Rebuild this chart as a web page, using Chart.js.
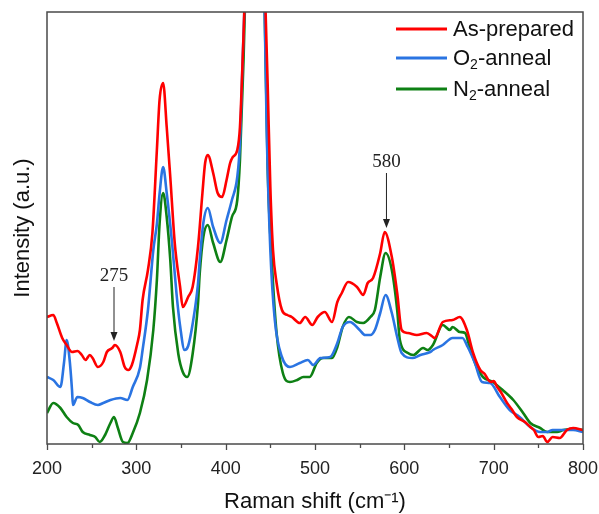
<!DOCTYPE html>
<html>
<head>
<meta charset="utf-8">
<script src="https://cdn.jsdelivr.net/npm/chart.js@4/dist/chart.umd.min.js"></script>
<style>
  body { margin: 0; background: #fff; }
  #wrap { width: 599px; height: 514px; }
</style>
</head>
<body>
<div id="wrap"><canvas id="ramanChart" width="599" height="514"></canvas></div>
<script>
// Raman spectra of the three samples (intensity in arbitrary units)
const seriesNames = ['As-prepared', 'O₂-anneal', 'N₂-anneal'];
const seriesColors = ['#ff0000', '#2a74e2', '#0e8014'];

const redShift = [200,207,211,217,222,228,234,239,243,248,251,257,263,267,273,276,282,287,291,295,301,304,307,313,318,323,326,330,334,338,343,349,352,358,363,369,374,377,380,386,391,396,401,405,408,413,416,419,424,433,442,447,450,453,457,463,469,474,483,489,497,503,511,519,525,530,537,547,554,559,565,573,578,586,592,597,604,614,625,632,634,643,654,662,670,677,685,690,694,697,700,704,708,715,720,726,735,741,745,750,755,760,766,774,782,789,800];
const redInt = [127,129,121,106,99,92,93,89,84,89,86,77,82,92,96,99,92,77,74,79,100,114,144,174,211,294,344,361,317,267,201,157,137,147,157,197,251,281,289,271,251,247,264,281,287,294,317,384,520,900,520,360,257,194,161,134,129,127,121,127,119,127,132,122,142,151,162,157,149,161,166,191,212,187,151,114,111,109,111,107,106,122,124,127,114,91,74,70,64,62,63,57,52,41,35,27,22,17,14,7,8,2,7,6,14,16,14];

const blueShift = [200,207,215,219,222,225,228,229,234,240,248,257,263,271,282,290,296,304,307,313,319,323,326,330,334,340,345,349,354,358,363,369,371,375,380,386,394,401,407,413,416,419,424,433,442,446,450,455,463,472,483,492,498,506,517,525,531,539,550,556,562,567,573,579,586,592,597,609,618,629,632,643,654,665,671,679,687,696,707,718,729,741,752,760,766,778,789,800];
const blueInt = [67,64,57,81,104,87,54,39,47,46,42,39,41,44,46,44,57,76,94,134,194,220,250,277,251,201,150,118,94,98,120,160,184,221,236,217,201,224,244,267,301,384,520,900,520,311,194,124,87,77,81,84,79,86,87,101,117,122,114,109,109,114,131,149,131,107,91,86,89,92,94,99,106,106,97,81,62,61,47,34,27,17,12,12,14,14,14,12];

const greenShift = [200,207,215,222,229,235,240,248,254,259,265,271,275,279,285,290,296,304,312,319,323,326,330,334,338,341,347,352,357,363,369,371,375,380,386,394,401,407,413,416,420,424,433,442,447,452,457,464,472,480,487,494,502,509,519,525,531,538,547,554,562,567,573,579,586,592,595,604,610,621,626,632,643,651,654,662,668,673,681,688,699,710,722,733,741,752,760,771,778,789,800];
const greenInt = [31,41,36,27,21,19,12,9,7,2,9,21,27,17,2,1,11,31,64,114,164,220,251,227,184,137,90,72,67,90,140,171,207,219,201,182,204,227,244,284,384,520,900,520,277,177,111,71,62,64,67,67,81,86,86,97,117,127,122,121,127,134,167,191,174,134,104,91,89,96,94,99,119,114,117,112,111,97,77,67,62,54,44,31,21,16,12,12,14,15,14];

const xTickValues = [200, 300, 400, 500, 600, 700, 800];

// peak markers: wavenumber, label, arrow start / tip and label height (intensity units)
const markers = [
  { at: 275, text: '275', from: 157, tip: 103, labelAt: 168 },
  { at: 580, text: '580', from: 271, tip: 216, labelAt: 282 }
];

const toPoints = (xs, ys) => xs.map((x, i) => ({ x: x, y: ys[i] }));

// draws text, rendering '₂' as a lowered small 2
const drawRich = (ctx, text, x, y, size, family) => {
  let cx = x;
  for (const ch of text) {
    if (ch === '₂') {
      ctx.font = Math.round(size * 0.65) + 'px ' + family;
      ctx.fillText('2', cx, y + size * 0.28);
      cx += ctx.measureText('2').width;
    } else {
      ctx.font = size + 'px ' + family;
      ctx.fillText(ch, cx, y);
      cx += ctx.measureText(ch).width;
    }
  }
};

const decorations = {
  id: 'decorations',
  afterDatasetsDraw(chart) {
    const { ctx, chartArea: a, scales: { x, y } } = chart;
    ctx.save();

    // frame
    ctx.strokeStyle = '#4a4a4a';
    ctx.lineWidth = 1.5;
    ctx.strokeRect(a.left, a.top, a.right - a.left, a.bottom - a.top);

    // outward ticks on the bottom axis, minor every 50
    ctx.lineWidth = 1.3;
    for (let v = 200; v <= 800; v += 50) {
      const px = Math.round(x.getPixelForValue(v)) + 0.5;
      const len = v % 100 === 0 ? 6 : 4;
      ctx.beginPath();
      ctx.moveTo(px, a.bottom);
      ctx.lineTo(px, a.bottom + len);
      ctx.stroke();
    }

    // legend
    const sans = '"Liberation Sans", Arial, sans-serif';
    const rows = [29, 58, 89];
    ctx.textBaseline = 'middle';
    ctx.textAlign = 'left';
    ctx.fillStyle = '#111';
    seriesNames.forEach((name, i) => {
      ctx.strokeStyle = seriesColors[i];
      ctx.lineWidth = 3;
      ctx.beginPath();
      ctx.moveTo(396, rows[i]);
      ctx.lineTo(447, rows[i]);
      ctx.stroke();
      drawRich(ctx, name, 453, rows[i] + 1, 22, sans);
    });

    // peak markers
    ctx.strokeStyle = '#222';
    ctx.fillStyle = '#222';
    ctx.lineWidth = 1;
    ctx.textAlign = 'center';
    ctx.textBaseline = 'middle';
    ctx.font = '19px "Liberation Serif", "Times New Roman", serif';
    markers.forEach(m => {
      const px = x.getPixelForValue(m.at);
      const top = y.getPixelForValue(m.from);
      const tip = y.getPixelForValue(m.tip);
      ctx.beginPath();
      ctx.moveTo(px, top);
      ctx.lineTo(px, tip - 6);
      ctx.stroke();
      ctx.beginPath();
      ctx.moveTo(px, tip);
      ctx.lineTo(px - 3.5, tip - 9);
      ctx.lineTo(px + 3.5, tip - 9);
      ctx.closePath();
      ctx.fill();
      ctx.fillText(m.text, px, y.getPixelForValue(m.labelAt));
    });

    ctx.restore();
  }
};

const ctx = document.getElementById('ramanChart').getContext('2d');
const ramanChart = new Chart(ctx, {
  type: 'line',
  data: {
    datasets: [
      { label: seriesNames[0], data: toPoints(redShift, redInt), borderColor: seriesColors[0] },
      { label: seriesNames[1], data: toPoints(blueShift, blueInt), borderColor: seriesColors[1] },
      { label: seriesNames[2], data: toPoints(greenShift, greenInt), borderColor: seriesColors[2] }
    ]
  },
  options: {
    responsive: false,
    animation: false,
    devicePixelRatio: 1,
    layout: { padding: { top: 12, right: 0, left: 0, bottom: 0 } },
    elements: {
      point: { radius: 0 },
      line: { borderWidth: 2.6, cubicInterpolationMode: 'monotone', fill: false }
    },
    plugins: {
      legend: { display: false },
      tooltip: { enabled: false }
    },
    scales: {
      x: {
        type: 'linear',
        min: 200,
        max: 800,
        afterBuildTicks: s => { s.ticks = xTickValues.map(v => ({ value: v })); },
        afterFit: s => { s.height = 70; s.paddingRight = 16; },
        grid: { display: false },
        border: { display: false },
        ticks: {
          color: '#222',
          padding: 6,
          maxRotation: 0,
          autoSkip: false,
          font: { family: '"Liberation Sans", Arial, sans-serif', size: 18 }
        },
        title: {
          display: true,
          text: 'Raman shift (cm⁻¹)',
          color: '#111',
          padding: { top: 0, bottom: 0 },
          font: { family: '"Liberation Sans", Arial, sans-serif', size: 22, lineHeight: 1.1 }
        }
      },
      y: {
        min: 0,
        max: 432,
        afterFit: s => { s.width = 47; },
        grid: { display: false },
        border: { display: false },
        ticks: { display: false },
        title: {
          display: true,
          text: 'Intensity (a.u.)',
          color: '#111',
          padding: { top: 11, bottom: 0 },
          font: { family: '"Liberation Sans", Arial, sans-serif', size: 22, lineHeight: 1.1 }
        }
      }
    }
  },
  plugins: [decorations]
});
</script>
</body>
</html>
